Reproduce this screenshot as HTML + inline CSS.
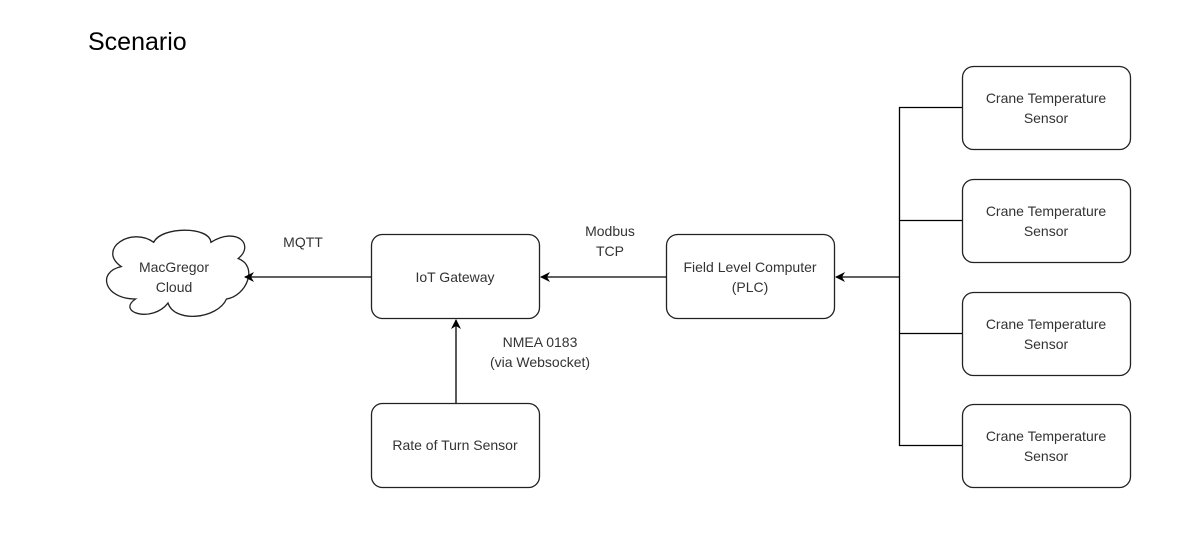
<!DOCTYPE html>
<html><head><meta charset="utf-8"><style>
html,body{margin:0;padding:0;background:#fff;}
svg{display:block;}
text{font-family:"Liberation Sans",Arial,sans-serif;fill:#333;}
</style></head><body>
<svg width="1201" height="552" viewBox="0 0 1201 552">
<defs><marker id="a" markerWidth="10" markerHeight="10" refX="9" refY="5" orient="auto" markerUnits="userSpaceOnUse"><path d="M0,0 L10,5 L0,10 L3,5 Z" fill="#000"/></marker></defs>
<text x="88" y="50" font-size="25" style="fill:#000">Scenario</text>
<g fill="#fff" stroke="#222" stroke-width="1.3">
<rect x="371.5" y="234.5" width="168" height="84" rx="11"/>
<rect x="666.5" y="234.5" width="168" height="84" rx="11"/>
<rect x="371.5" y="403.5" width="168" height="84" rx="11"/>
<rect x="962.5" y="66.5" width="168" height="83" rx="11"/>
<rect x="962.5" y="179.5" width="168" height="83" rx="11"/>
<rect x="962.5" y="292.5" width="168" height="83" rx="11"/>
<rect x="962.5" y="404.5" width="168" height="83" rx="11"/>
<path transform="translate(103,218) scale(1.3,1.35)" d="M25 60 C1 60 -5 40 14 36 C-5 23 22 6 39 18 C45 6 82 6 83 18 C103 6 117 20 104 30 C120 36 110 58 95 60 C88 75 55 78 50 63 C38 78 10 70 25 60 Z" stroke-width="1"/>
</g>
<g stroke="#000" stroke-width="1.3" fill="none">
<line x1="371" y1="277" x2="245" y2="277" marker-end="url(#a)"/>
<line x1="666" y1="277" x2="541" y2="277" marker-end="url(#a)"/>
<line x1="456" y1="403" x2="456" y2="320" marker-end="url(#a)"/>
<line x1="899" y1="277" x2="836" y2="277" marker-end="url(#a)"/>
<line x1="899.5" y1="107" x2="899.5" y2="446"/>
<line x1="899" y1="107.5" x2="962" y2="107.5"/>
<line x1="899" y1="220.5" x2="962" y2="220.5"/>
<line x1="899" y1="333.5" x2="962" y2="333.5"/>
<line x1="899" y1="445.5" x2="962" y2="445.5"/>
</g>
<g font-size="14" text-anchor="middle">
<text x="174" y="272">MacGregor</text><text x="174" y="292">Cloud</text>
<text x="303" y="247">MQTT</text>
<text x="455" y="282">IoT Gateway</text>
<text x="610" y="236">Modbus</text><text x="610" y="256">TCP</text>
<text x="750" y="272">Field Level Computer</text><text x="750" y="292">(PLC)</text>
<text x="540" y="347">NMEA 0183</text><text x="540" y="367">(via Websocket)</text>
<text x="455" y="450">Rate of Turn Sensor</text>
<text x="1046" y="103">Crane Temperature</text><text x="1046" y="123">Sensor</text>
<text x="1046" y="216">Crane Temperature</text><text x="1046" y="236">Sensor</text>
<text x="1046" y="329">Crane Temperature</text><text x="1046" y="349">Sensor</text>
<text x="1046" y="441">Crane Temperature</text><text x="1046" y="461">Sensor</text>
</g>
</svg>
</body></html>
